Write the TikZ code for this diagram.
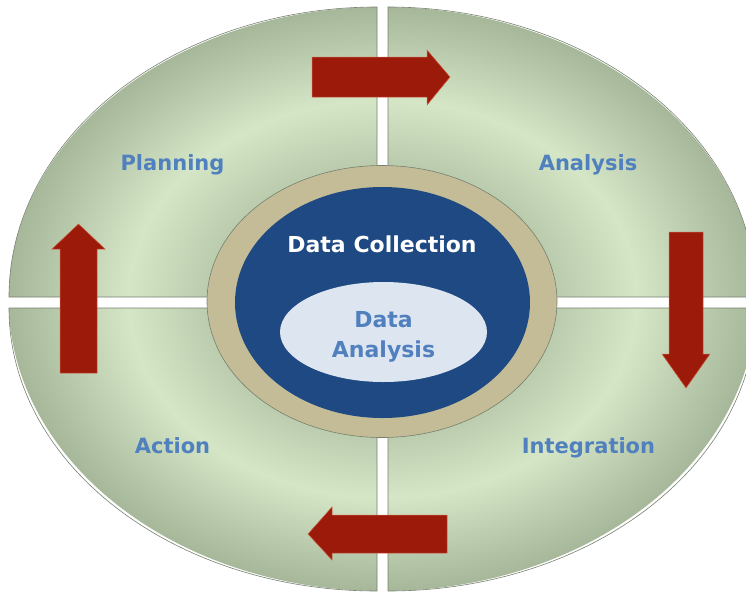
\documentclass[tikz,border=0pt]{standalone}
\usepackage{fontspec}
\setmainfont{DejaVu Sans}
\usetikzlibrary{shapes.geometric}

\definecolor{qdark}{RGB}{166,183,154}
\definecolor{qmid}{RGB}{184,201,171}
\definecolor{qlight}{RGB}{212,230,198}
\definecolor{qedge}{RGB}{118,128,112}
\definecolor{ringtan}{RGB}{196,188,150}
\definecolor{collblue}{RGB}{31,73,130}
\definecolor{anapale}{RGB}{221,229,241}
\definecolor{lblblue}{RGB}{80,128,190}
\definecolor{flowred}{RGB}{155,26,10}
\definecolor{flowedge}{RGB}{205,95,70}

\pgfdeclareradialshading{quadsheen}{\pgfpointorigin}{color(0bp)=(qmid); color(11bp)=(qmid); color(17bp)=(qlight); color(25bp)=(qdark); color(50bp)=(qdark)}

\begin{document}
\begin{tikzpicture}[x=1pt, y=-1pt,
    quad/.style={draw=qedge, line width=0.6pt,
        path picture={\shade[shading=quadsheen] (382.5,299) ellipse [x radius=374, y radius=292];}},
    flow/.style={fill=flowred, draw=flowedge, line width=0.5pt},
    lbl/.style={text=lblblue, font=\fontsize{21}{25}\selectfont\bfseries, anchor=base}]
    \useasboundingbox (0,0) rectangle (746,595);
    \clip (0,0) rectangle (746,595);

    % four quarters of the cycle
    \path[quad] (377,297) -- (9,297) arc[start angle=180, end angle=270, x radius=368, y radius=290] -- cycle;
    \path[quad] (388,297) -- (388,7) arc[start angle=270, end angle=360, x radius=368, y radius=290] -- cycle;
    \path[quad] (388,308) -- (756,308) arc[start angle=0, end angle=90, x radius=368, y radius=283] -- cycle;
    \path[quad] (377,308) -- (377,591) arc[start angle=90, end angle=180, x radius=368, y radius=283] -- cycle;

    \node[lbl] (planning) at (172.5,170) {Planning};
    \node[lbl] (analysis) at (588,170) {Analysis};
    \node[lbl] (integration) at (588.5,453) {Integration};
    \node[lbl] (action) at (172.5,453) {Action};

    % centre
    \node[ellipse, draw=qedge, line width=0.6pt, fill=ringtan, minimum width=350, minimum height=272, inner sep=0] (ring) at (382,301.5) {};
    \node[ellipse, fill=collblue, minimum width=295, minimum height=231, inner sep=0] (collect) at (382.5,302.5) {};
    \node[ellipse, fill=anapale, minimum width=207, minimum height=100, inner sep=0] (inner) at (383.5,332) {};
    \node[text=white, font=\fontsize{22}{26}\selectfont\bfseries, anchor=base] (colltitle) at (382,252) {Data Collection};
    \node[lbl, font=\fontsize{22}{30}\selectfont\bfseries, align=center, anchor=center] (innertitle) at (383.5,336.5) {Data\\Analysis};

    % arrows
    \fill[flow] (312,57) -- (427,57) -- (427,50) -- (450,77) -- (427,105) -- (427,97) -- (312,97) -- cycle;
    \fill[flow] (669,232) -- (703,232) -- (703,354) -- (710,354) -- (686,388) -- (662,354) -- (669,354) -- cycle;
    \fill[flow] (447,515) -- (332,515) -- (332,507) -- (308,534) -- (332,560) -- (332,553) -- (447,553) -- cycle;
    \fill[flow] (60,373) -- (60,249) -- (52,249) -- (78.5,224) -- (105,249) -- (97,249) -- (97,373) -- cycle;
\end{tikzpicture}
\end{document}
